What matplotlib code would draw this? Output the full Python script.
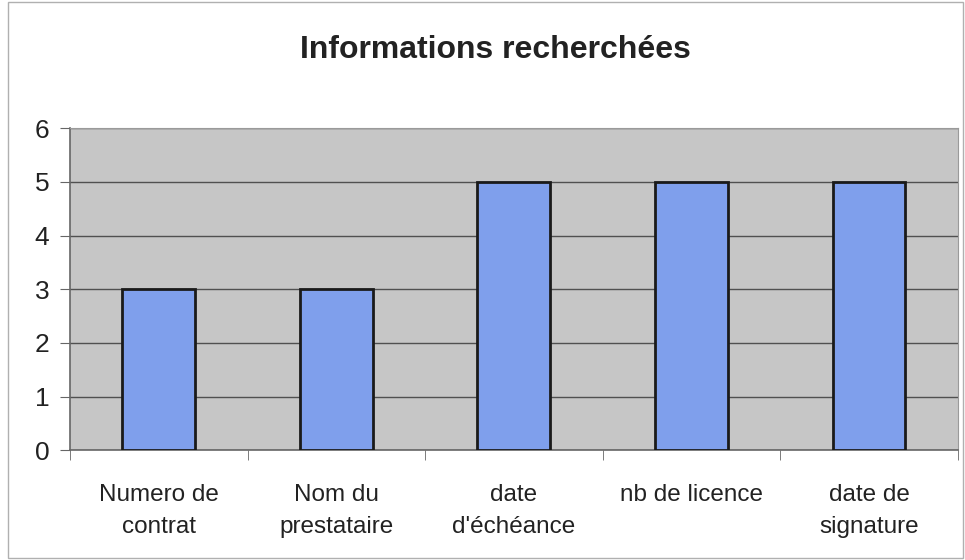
import numpy as np
import matplotlib.pyplot as plt
from matplotlib.patches import Rectangle

plt.rcParams['font.family'] = ["Liberation Sans", "DejaVu Sans"]

categories = ["Numero de\ncontrat", "Nom du\nprestataire", "date\nd'échéance",
              "nb de licence", "date de\nsignature"]
values = [3, 3, 5, 5, 5]
yticks = [0, 1, 2, 3, 4, 5, 6]

fig = plt.figure(figsize=(9.65, 5.6), dpi=100)
fig.patches.append(Rectangle((0.008, 0.004), 0.99, 0.992, transform=fig.transFigure,
                             fill=False, edgecolor="#b0b0b0", lw=1.0))
ax = fig.add_axes([0.0725, 0.196, 0.920, 0.575])
ax.set_facecolor("#c6c6c6")

x = np.arange(len(categories))
ax.bar(x, values, width=0.41, color="#7f9fec", edgecolor="#1a1a1a", linewidth=2, zorder=3)

ax.set_xlim(-0.5, len(categories) - 0.5)
ax.set_ylim(0, 6)
ax.set_yticks(yticks)
ax.yaxis.grid(True, color="#505050", lw=1.0, zorder=1)
ax.set_axisbelow(True)

ax.set_xticks(x)
ax.set_xticklabels(categories, fontsize=17.5, color="#222222", linespacing=1.6)
ax.set_xticks(np.arange(-0.5, len(categories)), minor=True)
ax.tick_params(axis="x", which="major", length=0, pad=24)
ax.tick_params(axis="x", which="minor", length=7, color="#666666", direction="out")
ax.tick_params(axis="y", labelsize=19, length=7, color="#666666", labelcolor="#222222", pad=8)

for s in ["top", "right"]:
    ax.spines[s].set_color("#9a9a9a")
    ax.spines[s].set_linewidth(0.8)
for s in ["left", "bottom"]:
    ax.spines[s].set_color("#666666")
    ax.spines[s].set_linewidth(1.2)

fig.text(0.513, 0.91, "Informations recherchées", ha="center", va="center",
         fontsize=23, fontweight="bold", color="#222222")

fig.savefig("out.png", dpi=100)
